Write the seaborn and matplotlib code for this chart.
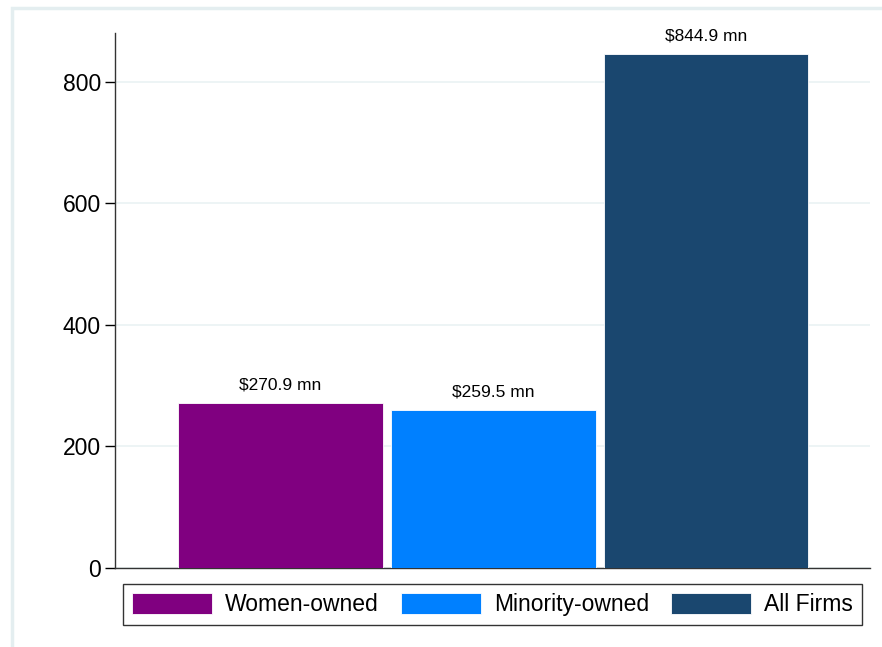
import matplotlib
matplotlib.use("Agg")
import matplotlib.pyplot as plt
import seaborn as sns
import pandas as pd
from matplotlib.patches import Rectangle

categories = ["Women-owned", "Minority-owned", "All Firms"]
values = [270.9, 259.5, 844.9]
bar_labels = ["$270.9 mn", "$259.5 mn", "$844.9 mn"]
colors = ["#800080", "#0080ff", "#1a476f"]
yticks = [0, 200, 400, 600, 800]

sns.set_theme(style="white")
plt.rcParams['font.family'] = ['Liberation Sans', 'DejaVu Sans']
plt.rcParams['text.color'] = 'black'
plt.rcParams['ytick.color'] = 'black'
plt.rcParams['ytick.labelcolor'] = 'black'

df = pd.DataFrame({'Group': categories, 'Amount': values})

fig = plt.figure(figsize=(8.82, 6.47), dpi=100)
fig.patch.set_facecolor('white')

# light outer frame like the stata graph region
fig.add_artist(Rectangle((12 / 882, -0.1), 1.2, 1 - 8 / 647 + 0.1,
                         transform=fig.transFigure, facecolor='white',
                         edgecolor='#e4eef0', linewidth=2.5, zorder=0))

ax = fig.add_axes([115 / 882, 1 - 568 / 647, (870 - 115) / 882, (568 - 33) / 647])
ax.set_facecolor('none')

sns.barplot(data=df, x='Group', y='Amount', hue='Group', palette=colors,
            saturation=1, width=0.962, legend=False, ax=ax,
            edgecolor='white', linewidth=0.6, zorder=3)

for p, lab in zip(ax.patches, bar_labels):
    ax.annotate(lab, (p.get_x() + p.get_width() / 2, p.get_height()),
                xytext=(0, 8), textcoords='offset points',
                ha='center', va='bottom', fontsize=12.5, color='black')

ax.set_ylim(0, 880)
ax.set_xlim(-0.777, 2.77)
ax.set_yticks(yticks)
ax.yaxis.grid(True, color='#eaf2f3', linewidth=1.2, zorder=0)
ax.set_axisbelow(True)
ax.tick_params(axis='y', which='both', left=True, length=7, width=1,
               color='black', labelsize=16.5, pad=3)
ax.tick_params(axis='x', bottom=False, labelbottom=False)
ax.set_xlabel('')
ax.set_ylabel('')
for s in ['top', 'right']:
    ax.spines[s].set_visible(False)
ax.spines['left'].set_color('#333333')
ax.spines['bottom'].set_color('#333333')
ax.spines['left'].set_linewidth(1)
ax.spines['bottom'].set_linewidth(1)

handles = [Rectangle((0, 0), 1, 1, facecolor=c, edgecolor='white', linewidth=0.6)
           for c in colors]
leg = fig.legend(handles, categories, loc='center', ncol=3, mode='expand',
                 bbox_to_anchor=(123 / 882, 1 - 627 / 647, 739 / 882, 45 / 647),
                 fontsize=16.5, frameon=True, fancybox=False, handlelength=3.5,
                 handleheight=1.05, handletextpad=0.55, borderaxespad=0,
                 borderpad=0.4, columnspacing=1.0)
leg.get_frame().set_edgecolor('black')
leg.get_frame().set_linewidth(1)

fig.savefig('out.png', dpi=100, facecolor='white')
